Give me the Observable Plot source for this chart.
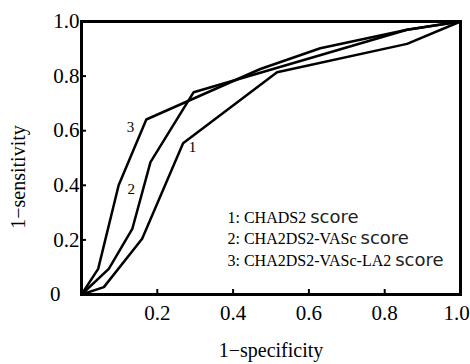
<!DOCTYPE html>
<html>
<head>
<meta charset="utf-8">
<script src="https://cdn.jsdelivr.net/npm/d3@7"></script>
<script src="https://cdn.jsdelivr.net/npm/@observablehq/plot@0.6"></script>
<style>
  body { margin: 0; background: #fff; }
  #chart { width: 470px; height: 364px; }
</style>
</head>
<body>
<div id="chart"></div>
<script>
// ROC curves: x = 1−specificity, y = 1−sensitivity (as labelled in the figure)
const curve1X = [0, 0.059, 0.160, 0.268, 0.516, 0.859, 1.0];
const curve1Y = [0, 0.027, 0.204, 0.554, 0.814, 0.918, 1.0];
const curve2X = [0, 0.072, 0.134, 0.182, 0.296, 0.859, 1.0];
const curve2Y = [0, 0.094, 0.240, 0.485, 0.741, 0.970, 1.0];
const curve3X = [0, 0.044, 0.098, 0.171, 0.472, 0.630, 0.859, 1.0];
const curve3Y = [0, 0.094, 0.400, 0.641, 0.826, 0.902, 0.970, 1.0];

const curveNames = ["1", "2", "3"];
const curveLabelX = [0.293, 0.131, 0.129];
const curveLabelY = [0.541, 0.385, 0.612];

const legendPrefixes = ["1: CHADS2", "2: CHA2DS2-VASc", "3: CHA2DS2-VASc-LA2"];
const legendSuffix = "score";

const xTicks = [0.2, 0.4, 0.6, 0.8];
const xLastTick = [1.0];
const yTicks = [0.2, 0.4, 0.6, 0.8, 1.0];
const yZeroTick = [0];

const xLabel = "1\u2212specificity";
const yLabel = "1\u2212sensitivity";

function toPoints(xs, ys, id) {
  return xs.map((x, i) => ({x, y: ys[i], id}));
}
const points = [
  ...toPoints(curve1X, curve1Y, "1"),
  ...toPoints(curve2X, curve2Y, "2"),
  ...toPoints(curve3X, curve3Y, "3")
];
const labels = curveNames.map((n, i) => ({n, x: curveLabelX[i], y: curveLabelY[i]}));
const legendRows = legendPrefixes.map((p) => p + " " + legendSuffix);

const serif = "'Liberation Serif', 'Times New Roman', serif";

const plot = Plot.plot({
  width: 470,
  height: 364,
  marginLeft: 81,
  marginRight: 10,
  marginTop: 21,
  marginBottom: 70,
  style: {fontFamily: serif, color: "#000", background: "#fff", overflow: "visible"},
  x: {domain: [0, 1]},
  y: {domain: [0, 1]},
  marks: [
    // inward tick marks
    Plot.axisX([...xTicks, ...xLastTick], {tickSize: 5, dy: -5, text: null, strokeWidth: 2, label: null}),
    Plot.axisY(yTicks, {tickSize: 5, dx: 5, text: null, strokeWidth: 2, label: null}),
    // tick labels
    Plot.axisX(xTicks, {tickSize: 0, tickPadding: 11, tickFormat: ".1f", fontSize: 21, label: null}),
    Plot.axisX(xLastTick, {tickSize: 0, tickPadding: 11, tickFormat: ".1f", fontSize: 21, dx: -4, label: null}),
    Plot.axisY(yTicks, {tickSize: 0, tickPadding: 2, tickFormat: ".1f", fontSize: 21, label: null}),
    Plot.axisY(yZeroTick, {tickSize: 0, tickPadding: 21, tickFormat: "d", fontSize: 21, label: null}),
    // curves
    Plot.line(points, {x: "x", y: "y", z: "id", stroke: "#000", strokeWidth: 2.5, strokeLinejoin: "miter"}),
    Plot.text(labels, {x: "x", y: "y", text: "n", fontSize: 15, fill: "#000"}),
    // legend rows
    ...legendRows.map((row, i) => Plot.text([row], {
      frameAnchor: "top-left", dx: 146, dy: 196 + i * 21.5, text: (d) => d,
      textAnchor: "start", lineAnchor: "middle", fontSize: 16, fill: "#000", className: "legend-row"
    })),
    // axis titles
    Plot.text([xLabel], {frameAnchor: "bottom", dy: 62, text: (d) => d, fontSize: 20, fill: "#000", lineAnchor: "bottom"}),
    Plot.text([yLabel], {frameAnchor: "left", dx: -63, dy: 19, rotate: -90, textAnchor: "middle", text: (d) => d, fontSize: 20, fill: "#000"}),
    Plot.frame({stroke: "#000", strokeWidth: 3})
  ]
});

// Split each legend row so that "score" uses a different font, as in the figure
d3.select(plot).selectAll(".legend-row text").each(function () {
  const t = d3.select(this);
  const full = t.text();
  const idx = full.lastIndexOf(" " + legendSuffix);
  if (idx < 0) return;
  t.text(null);
  t.append("tspan").text(full.slice(0, idx + 1));
  t.append("tspan").attr("font-family", "'DejaVu Sans', sans-serif").attr("font-size", 18).attr("fill", "#222").text(legendSuffix);
});

document.getElementById("chart").appendChild(plot);
</script>
</body>
</html>
